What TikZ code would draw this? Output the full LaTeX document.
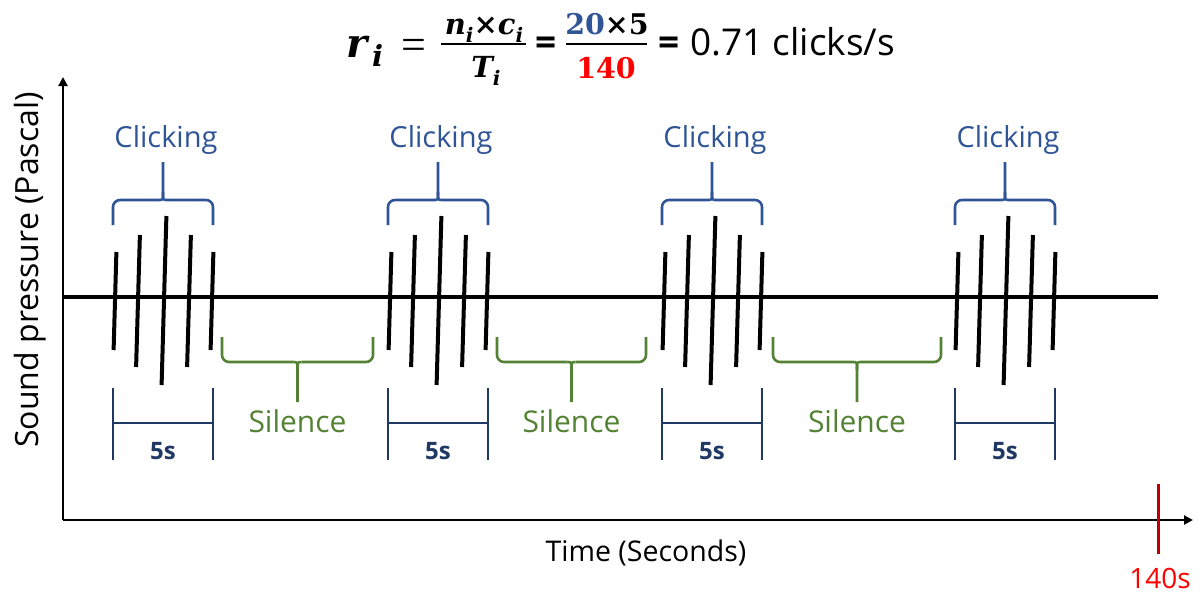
\documentclass[tikz,border=0pt]{standalone}
\usepackage{fontspec}
\setmainfont{Open Sans}
\newfontfamily\dvs{DejaVu Serif}
\newfontfamily\lserif{Liberation Serif}
\usetikzlibrary{arrows.meta}
\definecolor{clickblue}{HTML}{2F5597}
\definecolor{navy}{HTML}{203864}
\definecolor{silgreen}{HTML}{548235}
\definecolor{tickred}{HTML}{C00000}
\definecolor{textred}{HTML}{FF0000}
\newcommand\subi{\raisebox{-0.3em}{\fontsize{20}{20}\selectfont i}}
\tikzset{
  axis/.style={line width=2.2pt,-{Triangle[length=9pt,width=9pt]}},
  baseline/.style={line width=4pt},
  click/.style={line width=4pt},
  cbrace/.style={draw=clickblue,line width=2.6pt},
  sbrace/.style={draw=silgreen,line width=2.6pt},
  dur/.style={draw=navy,line width=2.4pt},
  clbl/.style={font=\fontsize{29}{32}\selectfont},
  slbl/.style={font=\fontsize{30}{32}\selectfont},
  fpart/.style={inner sep=0pt,outer sep=0pt},
  mathbi/.style={font=\fontsize{29}{30}\selectfont\dvs\bfseries\itshape},
  mathb/.style={font=\fontsize{28.5}{30}\selectfont\dvs\bfseries},
  fbar/.style={line width=2pt},
}
\begin{document}
\begin{tikzpicture}[x=1pt,y=-1pt]
\useasboundingbox (0,0) rectangle (1203,595);
% axes
\coordinate (O) at (63,520);
\coordinate (ytop) at (63,77);
\coordinate (xend) at (1193,520);
\draw[axis] (O) -- (ytop);
\draw[axis] (O) -- (xend);
\coordinate (b0) at (63,297);
\coordinate (b1) at (1158,297);
\draw[baseline] (b0) -- (b1);
% red tick
\coordinate (r0) at (1158,484);
\coordinate (r1) at (1158,554);
\draw[draw=tickred,line width=3pt] (r0) -- (r1);
\node[text=textred,font=\fontsize{28}{30}\selectfont] (t140) at (1160,578) {140s};
% axis labels
\node[font=\fontsize{28.5}{31}\selectfont] (tlab) at (646,553) {Time (Seconds)};
\node[rotate=90,font=\fontsize{32}{34}\selectfont] (ylab) at (30,270) {Sound pressure (Pascal)};
% formula
\node[fpart,anchor=base west,font=\fontsize{40}{42}\selectfont\dvs\bfseries\itshape] (fr) at (346,57) {r};
\node[fpart,anchor=base west,font=\fontsize{29}{30}\selectfont\dvs\bfseries\itshape] (fri) at (372,66) {i};
\node[fpart,anchor=base west,font=\fontsize{44}{46}\selectfont\lserif] (feq1) at (401,59) {=};
\node[fpart,anchor=base,mathbi] (fnum1) at (484,34) {n\subi{\upshape×}c\subi};
\coordinate (bar1a) at (441,44);
\coordinate (bar1b) at (526,44);
\draw[fbar] (bar1a) -- (bar1b);
\node[fpart,anchor=base,mathbi] (fden1) at (486,77) {T\subi};
\node[fpart,anchor=base west,font=\fontsize{37}{40}\selectfont\bfseries] (feq2) at (535,55) {=};
\node[fpart,anchor=base,mathb] (fnum2) at (607,34) {\textcolor{clickblue}{20}×5};
\coordinate (bar2a) at (566,44);
\coordinate (bar2b) at (647,44);
\draw[fbar] (bar2a) -- (bar2b);
\node[fpart,anchor=base,mathb,text=textred] (fden2) at (606,78) {140};
\node[fpart,anchor=base west,font=\fontsize{37}{40}\selectfont\bfseries] (feq3) at (658,55) {=};
\node[fpart,anchor=base west,font=\fontsize{37}{40}\selectfont] (ftext) at (690,55) {0.71 clicks/s};
% click groups
\foreach \L/\n in {113/1,388/2,662/3,955/4}{
  \foreach \dx/\yt/\yb/\tl in {2/252/350/1.4, 25/235/367/1.9, 51/216/385/2.4, 76/235/367/1.9, 99/252/350/1.4}{
    \draw[click] ({\L+\dx-\tl},\yb) -- ({\L+\dx+\tl},\yt);
  }
  % top brace
  \draw[cbrace,rounded corners=7pt] (\L,225) -- (\L,200) -- ({\L+46},200);
  \draw[cbrace,rounded corners=7pt] ({\L+100},225) -- ({\L+100},200) -- ({\L+54},200);
  \draw[cbrace] ({\L+46},200) .. controls ({\L+50},200) .. ({\L+50},192) -- ({\L+50},162);
  \draw[cbrace] ({\L+54},200) .. controls ({\L+50},200) .. ({\L+50},192);
  \node[clbl,text=clickblue] (click\n) at ({\L+53},140) {Clicking};
  % 5s marker
  \draw[dur] (\L,388) -- (\L,460);
  \draw[dur] ({\L+100},388) -- ({\L+100},460);
  \draw[dur] (\L,423) -- ({\L+100},423);
  \node[text=navy,font=\fontsize{24}{26}\selectfont\bfseries] (five\n) at ({\L+50},451) {5s};
}
% silence braces
\foreach \a/\b/\n in {222/373/1, 497/646/2, 773/941/3}{
  \pgfmathsetmacro\c{(\a+\b)/2}
  \draw[sbrace,rounded corners=7pt] (\a,337) -- (\a,362) -- ({\c-4},362);
  \draw[sbrace,rounded corners=7pt] (\b,337) -- (\b,362) -- ({\c+4},362);
  \draw[sbrace] ({\c-4},362) .. controls (\c,362) .. (\c,370) -- (\c,402);
  \draw[sbrace] ({\c+4},362) .. controls (\c,362) .. (\c,370);
  \node[slbl,text=silgreen] (sil\n) at (\c,421) {Silence};
}
\end{tikzpicture}
\end{document}
